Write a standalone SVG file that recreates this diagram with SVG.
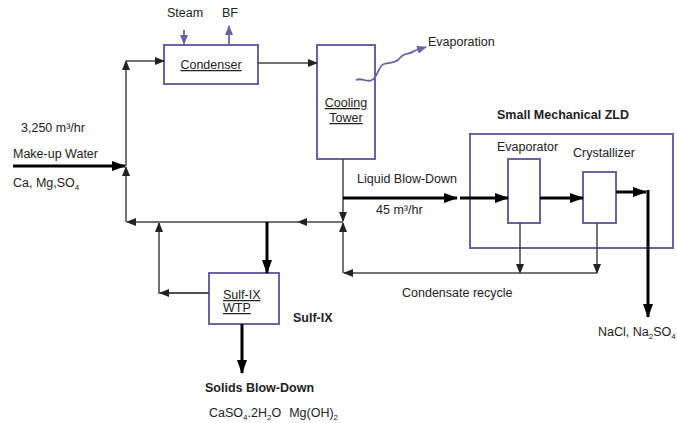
<svg xmlns="http://www.w3.org/2000/svg" width="677" height="423" viewBox="0 0 677 423">
<style>
text{font-family:"Liberation Sans",Arial,sans-serif;font-size:12.5px;fill:#222}
.b{font-weight:bold}
.u{text-decoration:underline}
.box{fill:#fff;stroke:#6b62a6;stroke-width:2}
.thin{fill:none;stroke:#444;stroke-width:1.5}
.thick{fill:none;stroke:#000;stroke-width:3}
.pur{fill:none;stroke:#6b62a6;stroke-width:1.8}
</style>
<defs>
<marker id="a" markerUnits="userSpaceOnUse" markerWidth="10" markerHeight="8" refX="9" refY="4" orient="auto"><path d="M0,0L10,4L0,8z" fill="#222"/></marker>
<marker id="at" markerUnits="userSpaceOnUse" markerWidth="14" markerHeight="10" refX="13" refY="5" orient="auto"><path d="M0,0L14,5L0,10z" fill="#000"/></marker>
<marker id="ap" markerUnits="userSpaceOnUse" markerWidth="10" markerHeight="8" refX="9" refY="4" orient="auto"><path d="M0,0L10,4L0,8z" fill="#6b62a6"/></marker>
</defs>
<rect width="677" height="423" fill="#fff"/>
<g id="zld">
<rect class="box" x="470" y="134" width="203" height="114"/>
<text class="b" x="497" y="119">Small Mechanical ZLD</text>
</g>
<g id="condenser">
<rect class="box" x="164" y="45" width="94" height="39"/>
<text class="u" x="211" y="69" text-anchor="middle">Condenser</text>
</g>
<g id="cooling-tower">
<rect class="box" x="317" y="45" width="58" height="114"/>
<text class="u" x="346" y="107" text-anchor="middle">Cooling</text>
<text class="u" x="346" y="122" text-anchor="middle">Tower</text>
</g>
<g id="evaporator">
<rect class="box" x="508" y="159" width="32" height="64"/>
<text x="497" y="151">Evaporator</text>
</g>
<g id="crystallizer">
<rect class="box" x="583" y="172" width="33" height="51"/>
<text x="573" y="157">Crystallizer</text>
</g>
<g id="sulfix">
<rect class="box" x="209" y="273" width="70" height="51"/>
<text class="u" x="223" y="299">Sulf-IX</text>
<text class="u" x="223" y="312">WTP</text>
<text class="b" x="293" y="322">Sulf-IX</text>
</g>
<g id="connectors">
<path class="pur" d="M184,30V44" marker-end="url(#ap)"/>
<path class="pur" d="M229,45V26" marker-end="url(#ap)"/>
<path class="thin" d="M258,63H317" marker-end="url(#a)"/>
<path class="thin" d="M126,222V167" marker-end="url(#a)"/>
<path class="thin" d="M126,166V61" marker-end="url(#a)"/>
<path class="thin" d="M126,61H164" marker-end="url(#a)"/>
<path class="thick" d="M13,166H125" marker-end="url(#at)"/>
<path class="thin" d="M343,222H298" marker-end="url(#a)"/>
<path class="thin" d="M300,222H127" marker-end="url(#a)"/>
<path class="thin" d="M209,293H159V223" marker-end="url(#a)"/>
<path class="thin" d="M209,293H160" marker-end="url(#a)"/>
<path class="thick" d="M267,222V273" marker-end="url(#at)"/>
<path class="thick" d="M242,324V373" marker-end="url(#at)"/>
<path class="thin" d="M343,159V221" marker-end="url(#a)"/>
<path class="thin" d="M343,273V223" marker-end="url(#a)"/>
<path class="thick" d="M343,198H457" marker-end="url(#at)"/>
<path class="thick" d="M460,198H508" marker-end="url(#at)"/>
<path class="thick" d="M540,198H583" marker-end="url(#at)"/>
<path class="thick" d="M616,192H646" marker-end="url(#at)"/>
<path class="thick" d="M648,190V317" marker-end="url(#at)"/>
<path class="thin" d="M520,223V273" marker-end="url(#a)"/>
<path class="thin" d="M597,223V273" marker-end="url(#a)"/>
<path class="thin" d="M597,273H344" marker-end="url(#a)"/>
<path class="pur" d="M356,80C362,77 366,83 372,80C378,77 378,66 384,64C392,62 396,63 400,58C404,52 410,55 414,51L426,47" marker-end="url(#ap)"/>
</g>
<g id="labels">
<text x="167" y="17">Steam</text>
<text x="222" y="17">BF</text>
<text x="428" y="46">Evaporation</text>
<text x="21" y="132">3,250 m³/hr</text>
<text x="13" y="158">Make-up Water</text>
<text x="13" y="187">Ca, Mg,SO<tspan font-size="8" dy="3">4</tspan></text>
<text x="357" y="183">Liquid Blow-Down</text>
<text x="376" y="214">45 m³/hr</text>
<text x="402" y="297">Condensate recycle</text>
<text x="598" y="336">NaCl, Na<tspan font-size="8" dy="3">2</tspan><tspan dy="-3">SO</tspan><tspan font-size="8" dy="3">4</tspan></text>
<text class="b" x="205" y="392">Solids Blow-Down</text>
<text x="209" y="417">CaSO<tspan font-size="8" dy="3">4</tspan><tspan dy="-3">.2H</tspan><tspan font-size="8" dy="3">2</tspan><tspan dy="-3">O</tspan><tspan dx="8">Mg(OH)</tspan><tspan font-size="8" dy="3">2</tspan></text>
</g>
</svg>
